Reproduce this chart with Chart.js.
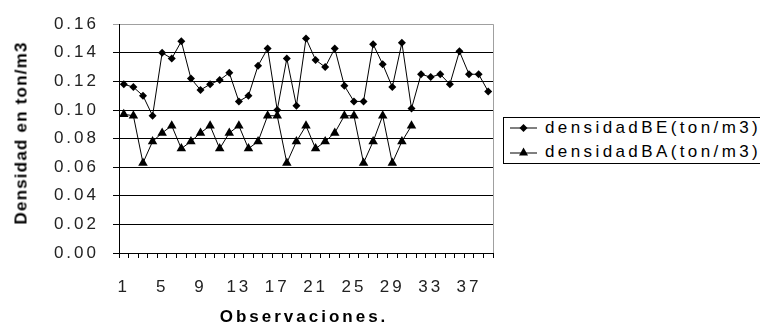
<!DOCTYPE html>
<html>
<head>
<meta charset="utf-8">
<script src="https://cdn.jsdelivr.net/npm/chart.js@4/dist/chart.umd.min.js"></script>
<style>
  html, body { margin: 0; padding: 0; background: #fff; overflow: hidden; }
  #wrap { position: relative; width: 760px; height: 331px; font-family: 'Liberation Sans', Arial, sans-serif; color: #000; }
  #chart { position: absolute; left: 0; top: 0; }
  .axis-title { position: absolute; font-weight: bold; font-size: 17px; white-space: nowrap; line-height: 1; }
  #yTitle { left: 21px; top: 133px; letter-spacing: 1.2px; transform: translate(-50%, -50%) rotate(-90deg); }
  #xTitle { left: 304px; top: 316px; letter-spacing: 3px; transform: translate(-50%, -50%); }
  #legend { position: absolute; left: 503px; top: 117px; width: 280px; height: 45px; border: 1px solid #000; background: #fff; }
  .legend-row { position: absolute; left: 0; height: 20px; display: flex; align-items: center; }
  .legend-row svg { margin-left: 6px; }
  .legend-row span { margin-left: 8px; font-size: 17px; letter-spacing: 3.4px; white-space: nowrap; }
</style>
</head>
<body>
<div id="wrap">
  <canvas id="chart" width="760" height="331"></canvas>
  <div id="yTitle" class="axis-title">Densidad en ton/m3</div>
  <div id="xTitle" class="axis-title">Observaciones.</div>
  <div id="legend">
    <div class="legend-row" style="top:0px">
      <svg width="27" height="12"><line x1="0" y1="6" x2="27" y2="6" stroke="#000" stroke-width="1"/><polygon points="13.5,2 17.5,6 13.5,10 9.5,6" fill="#000"/></svg>
      <span>densidadBE(ton/m3)</span>
    </div>
    <div class="legend-row" style="top:24px">
      <svg width="27" height="12"><line x1="0" y1="7" x2="27" y2="7" stroke="#000" stroke-width="1"/><polygon points="13.5,1.5 18,9.5 9,9.5" fill="#000"/></svg>
      <span>densidadBA(ton/m3)</span>
    </div>
  </div>
</div>

<script>
// Observations 1..39
const observaciones = [];
for (let i = 1; i <= 39; i++) observaciones.push(String(i));

// densidad BE (ton/m3)
const densidadBE = [
    0.118, 0.116, 0.110, 0.096, 0.140, 0.136, 0.148, 0.122, 0.114, 0.118,
    0.121, 0.126, 0.106, 0.110, 0.131, 0.143, 0.100, 0.136, 0.103, 0.150,
    0.135, 0.130, 0.143, 0.117, 0.106, 0.106, 0.146, 0.132, 0.116, 0.147,
    0.101, 0.125, 0.123, 0.125, 0.118, 0.141, 0.125, 0.125, 0.113
];

// densidad BA (ton/m3), only 31 observations
const densidadBA = [
    0.097, 0.096, 0.063, 0.078, 0.084, 0.089, 0.073, 0.078, 0.084, 0.089,
    0.073, 0.084, 0.089, 0.073, 0.078, 0.096, 0.096, 0.063, 0.078, 0.089,
    0.073, 0.078, 0.084, 0.096, 0.096, 0.063, 0.078, 0.096, 0.063, 0.078,
    0.089
];

// y axis ticks
const yMin = 0;
const yMax = 0.16;
const yStep = 0.02;
const xLabelEvery = 4;

const FONT = "'Liberation Sans', Arial, sans-serif";

// wide letter spacing like the original rendering
const spacingPlugin = {
    id: 'spacing',
    beforeLayout(chart) { chart.ctx.letterSpacing = '3px'; },
    beforeDraw(chart) { chart.ctx.letterSpacing = '3px'; }
};

// grey plot area border on the right
const borderPlugin = {
    id: 'plotBorder',
    beforeDatasetsDraw(chart) {
        const a = chart.chartArea;
        const ctx = chart.ctx;
        ctx.save();
        ctx.strokeStyle = '#a0a0a0';
        ctx.lineWidth = 1;
        ctx.beginPath();
        ctx.moveTo(Math.round(a.right) + 0.5, a.top);
        ctx.lineTo(Math.round(a.right) + 0.5, a.bottom);
        ctx.stroke();
        ctx.restore();
    }
};

new Chart(document.getElementById('chart'), {
    type: 'line',
    data: {
        labels: observaciones,
        datasets: [{
            label: 'densidadBE(ton/m3)',
            data: densidadBE,
            borderColor: '#000',
            backgroundColor: '#000',
            borderWidth: 1,
            pointStyle: 'rectRot',
            pointRadius: 4,
            pointBorderWidth: 0,
            tension: 0
        }, {
            label: 'densidadBA(ton/m3)',
            data: densidadBA,
            borderColor: '#000',
            backgroundColor: '#000',
            borderWidth: 1,
            pointStyle: 'triangle',
            pointRadius: 5.5,
            pointBorderWidth: 0,
            tension: 0
        }]
    },
    options: {
        responsive: false,
        animation: false,
        layout: { padding: { left: 0, top: 19, right: 267, bottom: 0 } },
        plugins: {
            legend: { display: false },
            tooltip: { enabled: false }
        },
        scales: {
            x: {
                type: 'category',
                offset: true,
                grid: {
                    offset: true,
                    drawOnChartArea: false,
                    drawTicks: true,
                    tickLength: 5,
                    color: '#000'
                },
                border: { color: '#000', width: 1 },
                ticks: {
                    autoSkip: false,
                    maxRotation: 0,
                    padding: 19,
                    color: '#222',
                    font: { family: FONT, size: 17 },
                    callback: function(value, index) {
                        return index % xLabelEvery === 0 ? observaciones[index] : '';
                    }
                },
                afterFit: function(scale) { scale.height = 78; }
            },
            y: {
                min: yMin,
                max: yMax,
                grid: {
                    color: function(ctx) {
                        return ctx.tick && ctx.tick.value >= yMax - 1e-9 ? '#a0a0a0' : '#000';
                    },
                    tickLength: 6
                },
                border: { color: '#000', width: 1 },
                ticks: {
                    stepSize: yStep,
                    padding: 14,
                    color: '#222',
                    font: { family: FONT, size: 17 },
                    callback: function(value) { return value.toFixed(2); }
                },
                afterFit: function(scale) { scale.width = 119; }
            }
        }
    },
    plugins: [spacingPlugin, borderPlugin]
});
</script>
</body>
</html>
